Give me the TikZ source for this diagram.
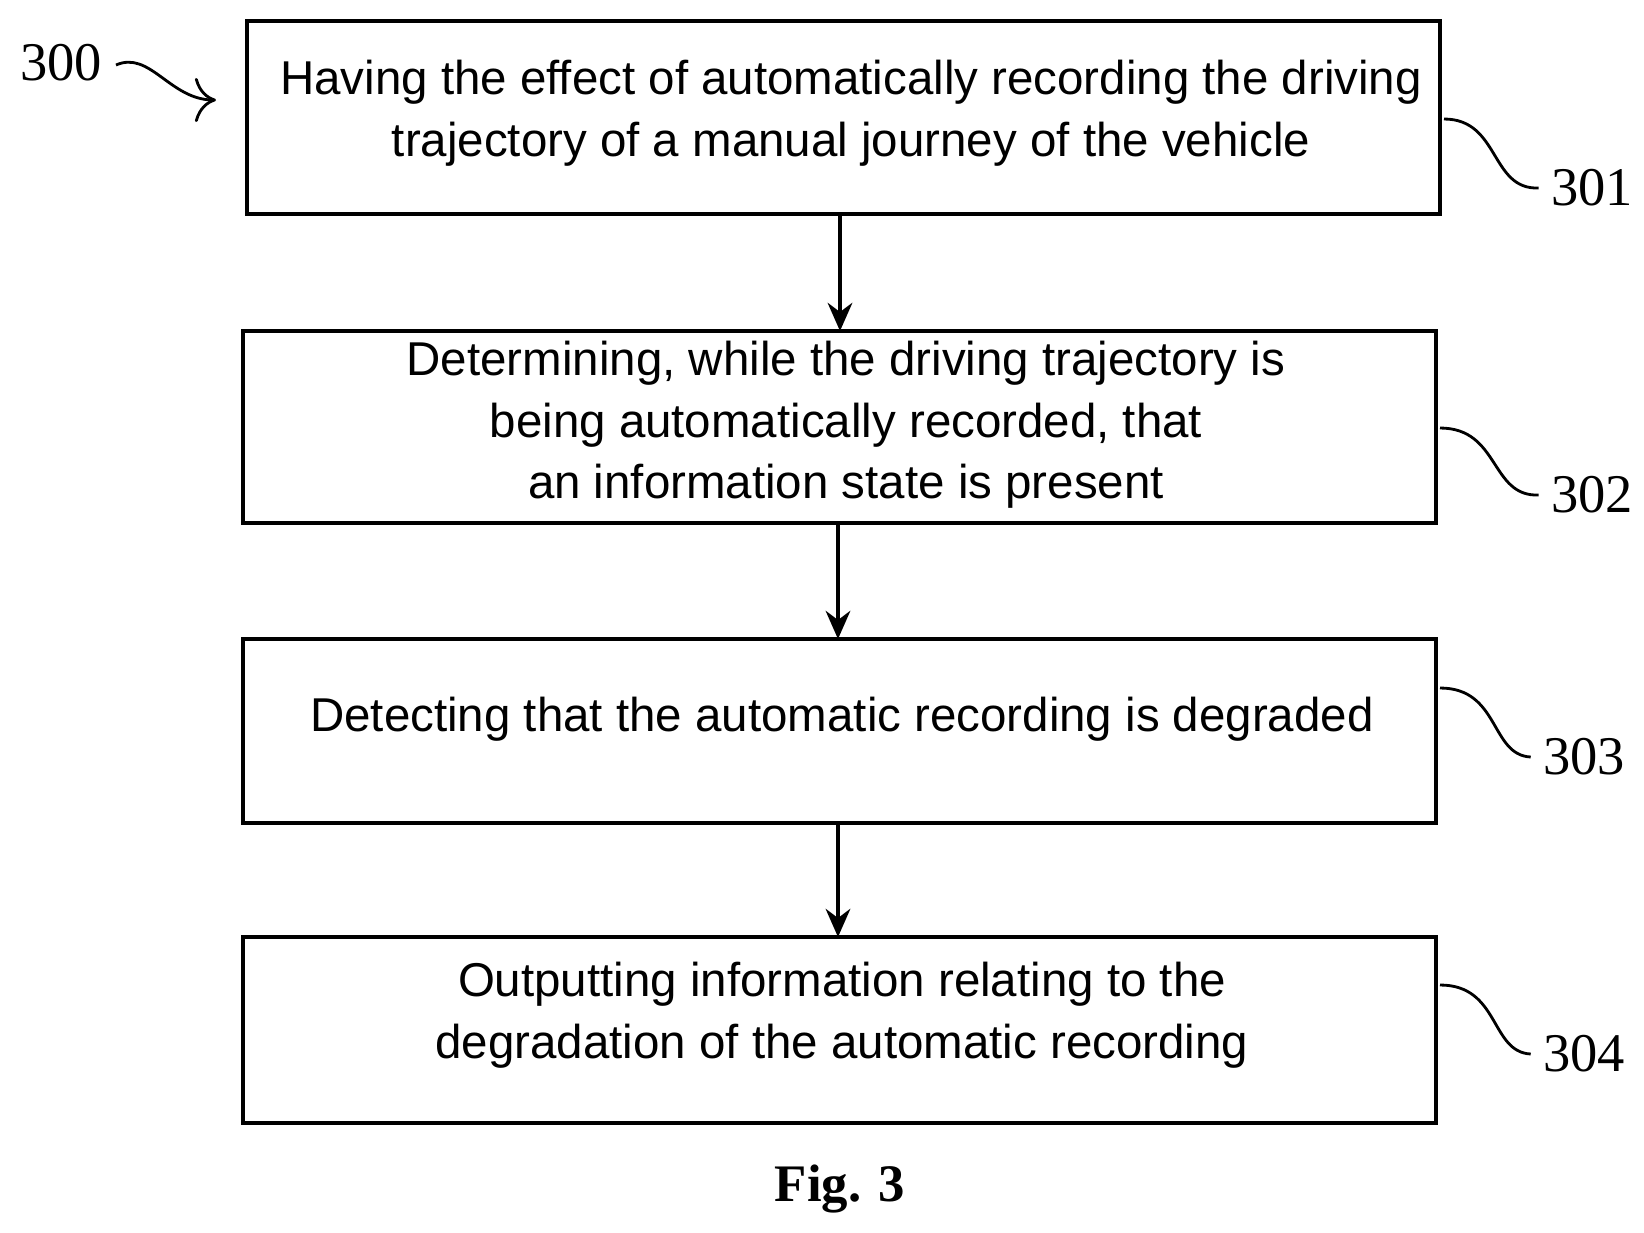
\documentclass[tikz,border=0pt]{standalone}
\usepackage{fontspec}
\setmainfont{Liberation Sans}
\newfontfamily\lbl{Liberation Serif}
\usetikzlibrary{arrows.meta}
\begin{document}
\begin{tikzpicture}[x=0.01cm,y=-0.01cm,
  box/.style={draw,line width=1.3pt,inner sep=0pt},
  txt/.style={align=center,font=\fontsize{13.5}{17.5}\selectfont},
  lab/.style={font=\lbl\fontsize{15.5}{15.5}\selectfont},
  arr/.style={-{Stealth[length=8pt,width=7pt]},line width=1.1pt},
  lead/.style={line width=0.8pt}]
\useasboundingbox (0,0) rectangle (1644,1232);
\draw[box] (247,21) rectangle (1440,214);
\draw[box] (243,331) rectangle (1436,523);
\draw[box] (243,639) rectangle (1436,823);
\draw[box] (243,937) rectangle (1436,1123);
\node[txt] (t1) at (851,113) {Having the effect of automatically recording the driving\\trajectory of a manual journey of the vehicle};
\node[txt] (t2) at (846,425) {Determining, while the driving trajectory is\\being automatically recorded, that\\an information state is present};
\node[txt] (t3) at (842,719) {Detecting that the automatic recording is degraded};
\node[txt] (t4) at (842,1015) {Outputting information relating to the\\degradation of the automatic recording};
\coordinate (b1) at (840,214); \coordinate (a2) at (840,331);
\coordinate (b2) at (838,523); \coordinate (a3) at (838,639);
\coordinate (b3) at (838,823); \coordinate (a4) at (838,937);
\draw[arr] (b1) -- (a2);
\draw[arr] (b2) -- (a3);
\draw[arr] (b3) -- (a4);
\node[lab] (l300) at (61,63) {300};
\node[lab] (l301) at (1592,188) {301};
\node[lab] (l302) at (1592,495) {302};
\node[lab] (l303) at (1584,757) {303};
\node[lab] (l304) at (1584,1054) {304};
\coordinate (s300) at (116,65); \coordinate (e300) at (216,100);
\draw[lead,-{To[length=6pt]}] (s300) .. controls (150,50) and (170,100) .. (e300);
\coordinate (r1) at (1444,119); \coordinate (r2) at (1440,428);
\coordinate (r3) at (1440,688); \coordinate (r4) at (1440,985);
\draw[lead] (r1) .. controls (1500,119) and (1490,190) .. (l301.west);
\draw[lead] (r2) .. controls (1500,428) and (1490,497) .. (l302.west);
\draw[lead] (r3) .. controls (1500,688) and (1490,755) .. (l303.west);
\draw[lead] (r4) .. controls (1500,985) and (1490,1052) .. (l304.west);
\node[font=\lbl\bfseries\fontsize{15}{15}\selectfont] (fig) at (840,1189) {Fig. 3};
\end{tikzpicture}
\end{document}
